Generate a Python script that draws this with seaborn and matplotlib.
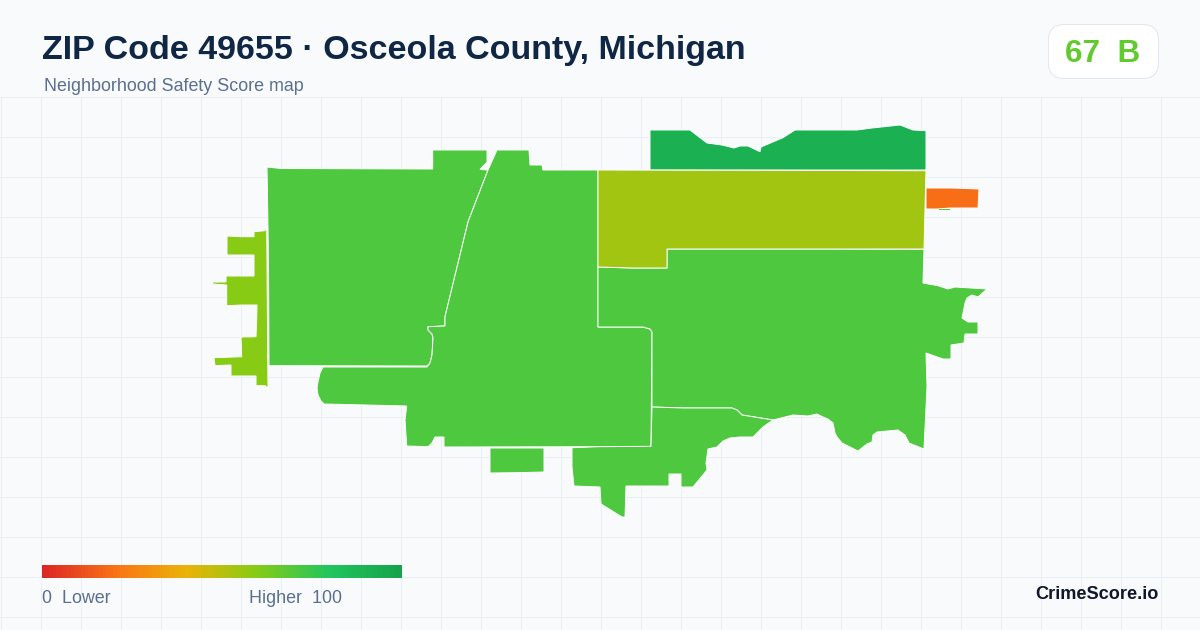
import numpy as np
import matplotlib
matplotlib.use('Agg')
import matplotlib.pyplot as plt
from matplotlib.colors import LinearSegmentedColormap
from matplotlib.patches import FancyBboxPatch
import seaborn as sns

title = 'ZIP Code 49655 · Osceola County, Michigan'
subtitle = 'Neighborhood Safety Score map'
score_text = '67  B'
overall_score = 67

# colour scale used by the map and the legend
scale_stops = [0, 20, 40, 60, 80, 100]
scale_colors = ['#dc2626', '#f97316', '#eab308', '#84cc16', '#22c55e', '#16a34a']
legend_scores = list(range(0, 101))

# zone outlines (image coordinates) and their scores
west_zone = [(267, 167), (281, 168.5), (432.7, 169), (432.7, 150), (487, 150), (487, 162), (480, 169.5), (488, 170),
             (468, 222), (445, 316.7), (445, 326), (428, 326.7), (428, 330), (432, 334), (433, 338), (432, 355),
             (430, 363), (427, 366), (269, 365.7), (268.5, 260)]
middle_zone = [(497, 150), (529, 150), (530, 165), (542, 165), (543, 170), (598, 170), (598, 327), (643, 327),
               (650, 329), (652, 332), (651, 446.7), (599, 446.7), (444, 447), (444, 437), (435, 437), (432, 443),
               (428, 446.7), (406.7, 446), (405, 420), (406.7, 406), (366, 405), (324, 404), (321, 401), (318, 395),
               (317, 388), (318, 382), (320, 373), (323, 367), (427, 367), (430, 363), (432, 355), (433, 338),
               (432, 334), (428, 330), (428, 326.7), (445, 326), (445, 316.7), (468, 222), (488, 170)]
east_zone = [(598, 267), (632, 268), (667, 268), (667, 249), (829, 249), (924, 249.3), (923, 283), (938, 285.7),
             (948, 289), (955, 287), (987, 289), (978, 297), (972, 295), (967, 298), (965, 303), (962, 318),
             (968, 322), (978, 322), (978, 334), (965, 334), (964, 343), (951, 345), (951, 359), (943, 359),
             (926, 353), (927, 387), (924, 449), (909, 443), (905, 435), (898, 430), (877, 432), (873, 435),
             (872, 442), (867, 444), (858, 451), (842, 443), (837, 437), (835, 433), (833, 423), (828, 419),
             (823, 417), (817, 414), (808, 416), (793, 415), (777, 419), (773, 420), (742, 415), (737, 410),
             (732, 408), (683, 408), (652, 407), (652, 332), (650, 329), (643, 327), (598, 327)]
south_zone = [(652, 407), (683, 408), (732, 408), (737, 410), (742, 415), (773, 420), (763, 427), (760, 430),
              (753, 437), (740, 437), (730, 438), (723, 441), (717, 447), (708, 449), (706, 463), (707, 470),
              (693, 487), (681, 487), (681, 474), (669, 474), (669, 486), (626, 486), (625, 517), (622, 517),
              (601, 504), (600, 487), (574, 486), (572, 467), (572, 447.7), (599, 446.7), (651, 446.3)]
south_block = [(490, 448), (544, 448), (544, 472), (517, 472.7), (490, 473)]
west_strip = [(227, 236), (241, 236.7), (254, 236.7), (254, 231.7), (265, 230.7), (266.7, 226.7), (268, 388),
              (265, 385.7), (256, 385.7), (256, 376), (231, 376), (231, 365), (215, 365.7), (214, 357.7),
              (241.7, 356.7), (241, 337), (256, 336.7), (256.7, 320), (257, 305), (242, 305), (226.7, 305.7),
              (226.7, 285), (212.7, 284), (212.7, 282), (226, 282), (226, 276), (254, 276), (254, 255), (227, 255)]
north_zone = [(650, 130), (690, 130), (707, 143), (722, 145), (734, 148), (740, 146), (748, 146), (760, 151.7),
              (761, 147), (783, 137.7), (795, 130), (830, 130), (857, 130), (872, 128), (900, 125), (913, 130),
              (926, 130.7), (926, 170), (650, 170)]
olive_zone = [(598, 170), (926, 170.7), (924, 249), (667, 249), (667, 268), (632, 268), (598, 267)]
orange_zone = [(926, 188), (952, 188), (979, 189), (978, 208), (950, 208), (938, 209), (926, 209)]
sliver_zone = [(939, 209), (950, 209), (950, 210), (939, 210)]

zones = [west_zone, middle_zone, east_zone, south_zone, south_block, west_strip,
         north_zone, olive_zone, orange_zone, sliver_zone]
zone_scores = [71, 71, 71, 71, 71, 59, 92, 54, 19, 71]

sns.set_theme(style='white')
plt.rcParams['font.family'] = ['Liberation Sans', 'DejaVu Sans']

cmap = LinearSegmentedColormap.from_list('safety', [(s / 100, c) for s, c in zip(scale_stops, scale_colors)])

bg = '#f8fafc'
fig = plt.figure(figsize=(12, 6.3), dpi=100, facecolor=bg)
ax = fig.add_axes([0, 0, 1, 1])
ax.set_xlim(0, 1200)
ax.set_ylim(630, 0)
ax.set_facecolor(bg)
ax.axis('off')

# background grid, only below the header
for gx in np.arange(0.5, 1200, 40):
    ax.plot([gx, gx], [96.5, 630], color='#e8f0f4', lw=0.72, zorder=1)
for gy in np.arange(96.5, 630, 40):
    ax.plot([0, 1200], [gy, gy], color='#e8f0f4', lw=0.72, zorder=1)

for zone, score in zip(zones, zone_scores):
    xs = [p[0] for p in zone]
    ys = [p[1] for p in zone]
    lw = 0 if zone is sliver_zone else 0.7
    ax.fill(xs, ys, facecolor=cmap(score / 100), edgecolor='white', linewidth=lw, zorder=2)

ax.text(42, 59.5, title, fontsize=24.5, fontweight='bold', color='#0f2744', zorder=5)
ax.text(44, 91, subtitle, fontsize=12.9, color='#5b708f', zorder=5)

badge = FancyBboxPatch((1048.5, 24.5), 110, 54, boxstyle='round,pad=0,rounding_size=16',
                       facecolor='white', edgecolor='#e2e8f0', linewidth=0.72, zorder=4)
ax.add_patch(badge)
ax.text(1103, 62, score_text, fontsize=22.7, fontweight='bold', ha='center',
        color=cmap(overall_score / 100), zorder=5)

ax.text(42, 603, '0  Lower', fontsize=12.9, color='#5b708f', zorder=5)
ax.text(342, 603, 'Higher  100', fontsize=12.9, color='#5b708f', ha='right', zorder=5)
ax.text(1158.5, 599, 'CrimeScore.io', fontsize=13.1, fontweight='bold', color='#0f172a', ha='right', zorder=5)

# legend gradient bar
cax = fig.add_axes([42 / 1200, 1 - 578 / 630, 360 / 1200, 13 / 630])
sns.heatmap(np.array([legend_scores]), cmap=cmap, vmin=0, vmax=100, cbar=False,
            xticklabels=False, yticklabels=False, ax=cax)

fig.savefig('out.png', dpi=100, facecolor=bg)
plt.close(fig)
